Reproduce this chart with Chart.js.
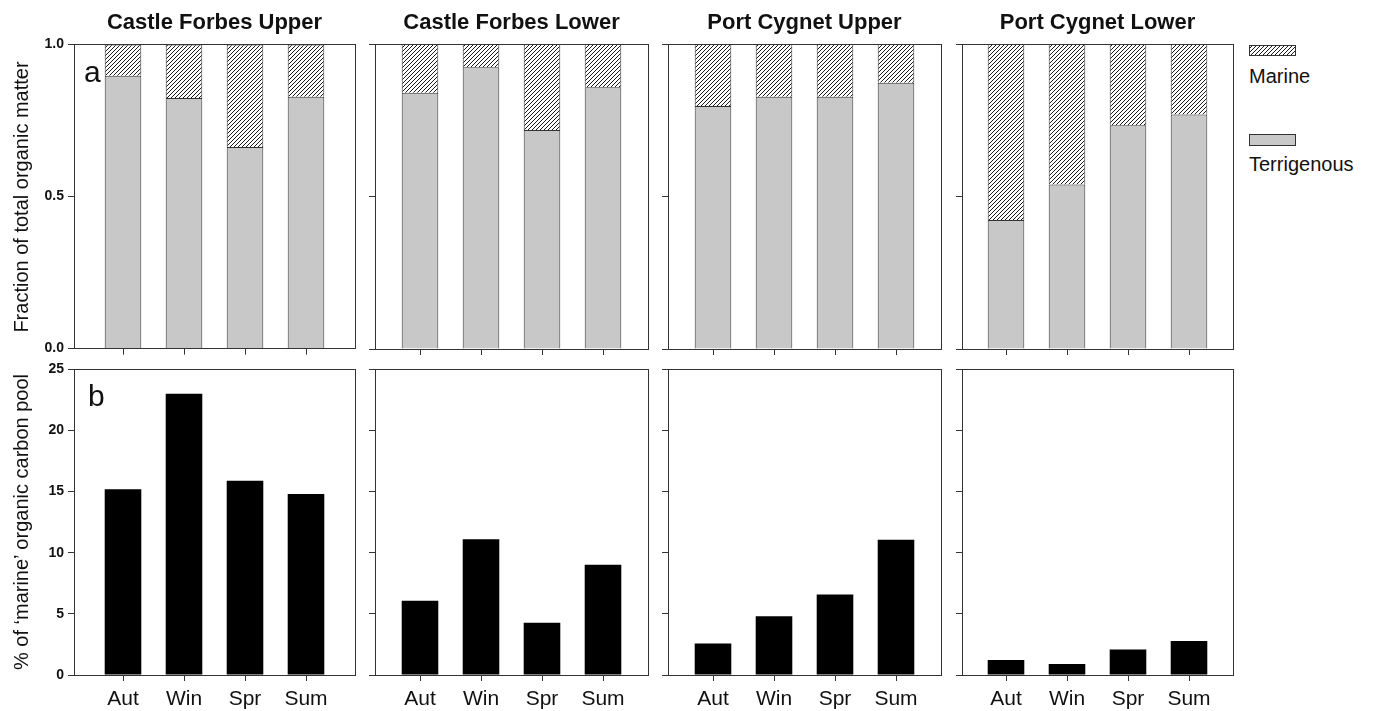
<!DOCTYPE html>
<html>
<head>
<meta charset="utf-8">
<script src="https://cdn.jsdelivr.net/npm/chart.js@4.4.1/dist/chart.umd.min.js"></script>
<style>
  body { margin: 0; background: #fff; }
  #fig { position: relative; width: 1373px; height: 711px; overflow: hidden;
         font-family: "Liberation Sans", Arial, sans-serif; color: #111; }
  #fig canvas { position: absolute; }
  .txt { position: absolute; line-height: 1; white-space: nowrap; }
  .title { font-weight: bold; font-size: 22px; transform: translateX(-50%); }
  .ytitle { font-size: 20px; transform: translate(-50%, -50%) rotate(-90deg); }
  .letter { font-size: 30px; }
  .leg { font-size: 20px; }
</style>
</head>
<body>
<div id="fig"></div>
<script>
const sites = ['Castle Forbes Upper', 'Castle Forbes Lower', 'Port Cygnet Upper', 'Port Cygnet Lower'];
const seasons = ['Aut', 'Win', 'Spr', 'Sum'];

// (a) fraction of total organic matter, one row per site
const terrigenous = [
  [0.897, 0.824, 0.663, 0.828],
  [0.840, 0.924, 0.718, 0.858],
  [0.797, 0.827, 0.827, 0.873],
  [0.423, 0.539, 0.734, 0.769]
];
const marine = [
  [0.103, 0.176, 0.337, 0.172],
  [0.160, 0.076, 0.282, 0.142],
  [0.203, 0.173, 0.173, 0.127],
  [0.577, 0.461, 0.266, 0.231]
];

// (b) % of 'marine' organic carbon pool
const marineCarbon = [
  [15.2, 23.0, 15.9, 14.8],
  [6.06, 11.1, 4.26, 9.0],
  [2.58, 4.81, 6.58, 11.06],
  [1.22, 0.9, 2.09, 2.77]
];

const fractionTicks = [0, 0.5, 1.0];
const carbonTicks = [0, 5, 10, 15, 20, 25];

// layout (pixels)
const colX = [[74, 355], [375, 648], [668, 941], [962, 1233]];
const rowY = [[44, 349], [369, 675]];
const PAD_L = 45, PAD_T = 12, PAD_R = 6;
const PAD_B = [12, 36];
const SPACING = 61;
const FONT = '"Liberation Sans", Arial, sans-serif';
const LINE = '#333';

const fig = document.getElementById('fig');

function hatchPattern(ctx) {
  const n = 4;
  const c = document.createElement('canvas');
  c.width = c.height = n;
  const g = c.getContext('2d');
  g.fillStyle = '#fff';
  g.fillRect(0, 0, n, n);
  g.strokeStyle = '#1a1a1a';
  g.lineWidth = 1;
  g.beginPath();
  g.moveTo(0, n); g.lineTo(n, 0);
  g.moveTo(-1, 1); g.lineTo(1, -1);
  g.moveTo(n - 1, n + 1); g.lineTo(n + 1, n - 1);
  g.stroke();
  return ctx.createPattern(c, 'repeat');
}

const framePlugin = {
  id: 'frame',
  afterDraw(chart) {
    const { ctx, chartArea: a } = chart;
    ctx.save();
    ctx.strokeStyle = LINE;
    ctx.lineWidth = 1;
    ctx.strokeRect(Math.round(a.left) + 0.5, Math.round(a.top) + 0.5,
                   Math.round(a.right - a.left), Math.round(a.bottom - a.top));
    ctx.restore();
  }
};

function addText(cls, text, left, top) {
  const d = document.createElement('div');
  d.className = 'txt ' + cls;
  d.textContent = text;
  d.style.left = left + 'px';
  d.style.top = top + 'px';
  fig.appendChild(d);
  return d;
}

const pts = arr => arr.map((v, i) => ({ x: i + 1, y: v }));

function makePanel(row, col) {
  const [x0, x1] = colX[col], [y0, y1] = rowY[row];
  const w = x1 - x0, h = y1 - y0;
  const padB = PAD_B[row];
  const canvas = document.createElement('canvas');
  canvas.width = w + PAD_L + PAD_R;
  canvas.height = h + PAD_T + padB;
  canvas.style.left = (x0 - PAD_L) + 'px';
  canvas.style.top = (y0 - PAD_T) + 'px';
  fig.appendChild(canvas);
  const ctx = canvas.getContext('2d');
  const half = (w / SPACING - (seasons.length - 1)) / 2;

  let datasets, yTicks;
  if (row === 0) {
    yTicks = fractionTicks;
    datasets = [
      { label: 'Terrigenous', data: pts(terrigenous[col]), backgroundColor: '#c8c8c8',
        borderColor: LINE, borderWidth: 1 },
      { label: 'Marine', data: pts(marine[col]), backgroundColor: hatchPattern(ctx),
        borderColor: LINE, borderWidth: 1 }
    ];
  } else {
    yTicks = carbonTicks;
    datasets = [
      { label: 'Marine carbon', data: pts(marineCarbon[col]), backgroundColor: '#000',
        borderWidth: 0 }
    ];
  }
  datasets.forEach(d => { d.barPercentage = 0.6; d.categoryPercentage = 1; });

  new Chart(ctx, {
    type: 'bar',
    data: { datasets },
    options: {
      responsive: false,
      animation: false,
      devicePixelRatio: 1,
      layout: { padding: { top: PAD_T, right: PAD_R, left: 0, bottom: 0 } },
      plugins: { legend: { display: false }, tooltip: { enabled: false } },
      scales: {
        x: {
          type: 'linear',
          bounds: 'data',
          offset: false,
          min: 1 - half,
          max: seasons.length + half,
          stacked: true,
          afterBuildTicks: s => { s.ticks = seasons.map((_, i) => ({ value: i + 1 })); },
          afterFit: s => { s.height = padB; },
          ticks: {
            display: row === 1,
            autoSkip: false,
            maxRotation: 0,
            padding: 6,
            color: '#111',
            font: { family: FONT, size: 21 },
            callback: v => seasons[Math.round(v) - 1]
          },
          grid: { offset: false, drawOnChartArea: false, drawTicks: true, tickLength: 6, color: LINE },
          border: { display: false }
        },
        y: {
          min: yTicks[0],
          max: yTicks[yTicks.length - 1],
          stacked: true,
          afterBuildTicks: s => { s.ticks = yTicks.map(v => ({ value: v })); },
          afterFit: s => { s.width = PAD_L; },
          ticks: {
            display: col === 0,
            padding: 4,
            color: '#111',
            font: { family: FONT, size: 14, weight: 'bold' },
            callback: v => row === 0 ? v.toFixed(1) : String(v)
          },
          grid: { drawOnChartArea: false, drawTicks: true, tickLength: 6, color: LINE },
          border: { display: false }
        }
      }
    },
    plugins: [framePlugin]
  });
}

for (let r = 0; r < 2; r++) {
  for (let c = 0; c < sites.length; c++) makePanel(r, c);
}

// panel titles
sites.forEach((s, c) => addText('title', s, (colX[c][0] + colX[c][1]) / 2, 11));

// axis titles
addText('ytitle', 'Fraction of total organic matter', 20.5, (rowY[0][0] + rowY[0][1]) / 2);
addText('ytitle', '% of \u2018marine\u2019 organic carbon pool', 20.5, (rowY[1][0] + rowY[1][1]) / 2);

// panel letters
addText('letter', 'a', 84, 57);
addText('letter', 'b', 88, 381);

// legend
function swatch(top, height, fill) {
  const c = document.createElement('canvas');
  c.width = 48; c.height = height + 1;
  c.style.left = '1249px';
  c.style.top = top + 'px';
  fig.appendChild(c);
  const g = c.getContext('2d');
  g.fillStyle = fill === 'hatch' ? hatchPattern(g) : fill;
  g.fillRect(0, 0, 47, height);
  g.strokeStyle = LINE;
  g.lineWidth = 1;
  g.strokeRect(0.5, 0.5, 46, height - 1);
}
swatch(45, 11, 'hatch');
addText('leg', 'Marine', 1249, 66);
swatch(134, 12, '#c8c8c8');
addText('leg', 'Terrigenous', 1249, 154);
</script>
</body>
</html>
